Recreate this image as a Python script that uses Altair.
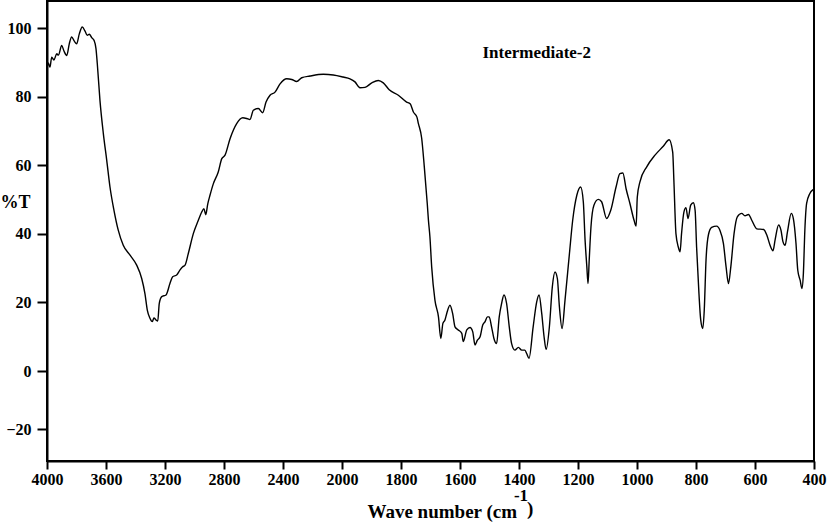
import altair as alt
import pandas as pd

# ---- data ----
wavenumber = [
    4000, 3991, 3980, 3968, 3953, 3934, 3923, 3900, 3885, 3866, 3849, 3833, 3815, 3799,
    3781, 3761, 3742, 3727, 3713, 3697, 3681, 3668, 3659, 3641, 3618, 3595, 3573, 3546,
    3517, 3483, 3437, 3392, 3358, 3336, 3320, 3302, 3286, 3275, 3261, 3249, 3239, 3222,
    3193, 3166, 3148, 3121, 3098, 3080, 3064, 3042, 3008, 2974, 2951, 2936, 2924, 2910,
    2895, 2872, 2839, 2815, 2793, 2759, 2714, 2673, 2646, 2624, 2601, 2567, 2538, 2515,
    2488, 2454, 2420, 2375, 2341, 2307, 2273, 2217, 2127, 2059, 1996, 1973, 1956, 1939,
    1922, 1899, 1877, 1860, 1840, 1809, 1781, 1769, 1758, 1746, 1741, 1730, 1721, 1711,
    1707, 1702, 1696, 1685, 1673, 1665, 1658, 1651, 1645, 1634, 1625, 1617, 1606, 1594,
    1589, 1577, 1566, 1557, 1549, 1541, 1532, 1523, 1515, 1507, 1501, 1493, 1485, 1476,
    1467, 1459, 1451, 1442, 1433, 1425, 1414, 1402, 1391, 1380, 1374, 1366, 1352, 1340,
    1332, 1323, 1315, 1308, 1297, 1287, 1278, 1270, 1263, 1254, 1244, 1229, 1218, 1204,
    1191, 1182, 1176, 1170, 1166, 1162, 1156, 1146, 1131, 1120, 1103, 1089, 1071, 1058,
    1048, 1037, 1024, 1010, 1003, 999, 990, 967, 939, 911, 891, 879, 875, 868,
    860, 854, 849, 841, 834, 827, 818, 809, 803, 798, 790, 784, 777, 772,
    766, 758, 747, 730, 719, 707, 698, 690, 682, 671, 660, 645, 634, 622,
    611, 594, 571, 560, 549, 539, 532, 520, 512, 505, 498, 490, 477, 470,
    461, 455, 447, 441, 436, 431, 425, 414, 405, 400,
]
transmittance = [
    88.3, 89.9, 88.7, 91.6, 90.8, 92.6, 92.2, 95.0, 93.4, 92.1, 95.5, 97.5, 96.3, 95.5,
    98.4, 100.4, 99.2, 98.0, 98.3, 97.3, 96.5, 94.1, 89.7, 79.0, 69.3, 61.5, 53.7, 46.9,
    41.1, 36.7, 33.8, 30.9, 27.0, 22.6, 17.8, 15.4, 14.4, 15.5, 14.9, 14.6, 19.7, 21.7,
    22.2, 25.6, 27.5, 28.0, 29.5, 30.4, 30.9, 34.3, 40.1, 44.0, 46.4, 47.4, 45.6, 48.8,
    51.3, 54.7, 58.1, 62.0, 63.0, 67.8, 72.2, 73.9, 73.7, 73.4, 76.1, 76.6, 75.4, 78.5,
    80.5, 81.4, 83.8, 85.3, 85.1, 84.5, 85.6, 86.1, 86.6, 86.4, 85.8, 85.3, 84.4, 82.7,
    82.8, 84.1, 84.8, 84.1, 82.1, 80.5, 78.5, 78.0, 75.6, 74.1, 72.2, 68.0, 59.6, 48.9,
    44.0, 39.2, 30.4, 20.7, 15.8, 9.5, 13.9, 14.9, 16.8, 19.2, 16.8, 12.9, 12.0, 11.0,
    8.6, 12.0, 12.7, 11.5, 7.6, 9.0, 10.0, 13.4, 14.4, 15.8, 15.8, 12.9, 9.5, 8.0,
    15.8, 19.7, 22.2, 19.7, 12.9, 8.0, 6.1, 6.9, 6.1, 6.1, 5.1, 3.7, 12.9, 20.2,
    22.2, 16.8, 10.0, 6.3, 12.9, 24.6, 28.9, 27.0, 18.7, 12.4, 20.7, 34.3, 44.0, 51.3,
    53.7, 49.4, 38.2, 30.4, 25.5, 32.4, 42.1, 48.4, 50.1, 49.4, 44.5, 46.9, 53.7, 57.6,
    57.8, 53.2, 48.9, 44.0, 42.3, 50.8, 55.2, 59.6, 63.0, 65.6, 67.5, 63.9, 55.7, 40.1,
    36.2, 34.8, 40.1, 46.4, 47.7, 44.5, 48.4, 49.1, 46.9, 36.2, 22.6, 14.9, 12.4, 17.8,
    32.4, 39.7, 41.9, 42.3, 41.1, 37.2, 30.4, 25.5, 30.4, 40.1, 45.0, 46.0, 45.3, 45.7,
    44.0, 41.5, 41.3, 39.7, 36.7, 35.1, 38.2, 42.6, 41.1, 37.7, 36.7, 40.6, 46.0, 44.5,
    37.2, 29.4, 26.5, 24.1, 28.5, 41.1, 48.9, 51.8, 52.8, 53.0,
]
x_ticks = [4000, 3600, 3200, 2800, 2400, 2000, 1800, 1600, 1400, 1200, 1000, 800, 600, 400]
y_ticks = [100, 80, 60, 40, 20, 0, -20]

label_text = ["Intermediate-2"]
label_wn = [1340]
label_t = [92.7]

x_title_main = ["Wave number (cm"]
x_title_sup = ["-1"]
x_title_close = [")"]

# ---- layout ----
W, H = 767, 460
FONT = "Liberation Serif"

df = pd.DataFrame({"wn": wavenumber, "T": transmittance})
ann = pd.DataFrame({"wn": label_wn, "T": label_t, "txt": label_text})

xscale = alt.Scale(domain=[4000, 2000, 400], range=[0, 295, W])
yscale = alt.Scale(domain=[-31, 0, 108], range=[H, 370, 0])

x_axis = alt.Axis(
    values=x_ticks, title=None, format="d", grid=False,
    tickSize=8, tickWidth=2, tickColor="black",
    domainColor="black", domainWidth=2,
    labelFont=FONT, labelFontWeight="bold", labelFontSize=16, labelColor="black",
    labelPadding=2, labelOverlap=False, labelFlush=False,
)
y_axis = alt.Axis(
    values=y_ticks, format="d", grid=False,
    tickSize=10, tickWidth=2, tickColor="black",
    domainColor="black", domainWidth=2,
    labelFont=FONT, labelFontWeight="bold", labelFontSize=16, labelColor="black",
    labelPadding=6, labelOverlap=False,
    title="%T", titleAngle=0, titleX=-47, titleY=201, titleAlign="left",
    titleBaseline="middle", titleFont=FONT, titleFontWeight="bold",
    titleFontSize=18, titleColor="black",
)

line = alt.Chart(df).mark_line(color="black", strokeWidth=1.4, interpolate="monotone").encode(
    x=alt.X("wn:Q", scale=xscale, axis=x_axis),
    y=alt.Y("T:Q", scale=yscale, axis=y_axis),
    order=alt.Order("wn:Q", sort="descending"),
)

label = alt.Chart(ann).mark_text(
    font=FONT, fontWeight="bold", fontSize=17, color="black", align="center", baseline="middle"
).encode(
    x=alt.X("wn:Q", scale=xscale),
    y=alt.Y("T:Q", scale=yscale),
    text="txt:N",
)

t_main = alt.Chart(pd.DataFrame({"t": x_title_main})).mark_text(
    font=FONT, fontWeight="bold", fontSize=19, color="black", align="right", baseline="alphabetic"
).encode(text="t:N", x=alt.value(470), y=alt.value(517))

t_sup = alt.Chart(pd.DataFrame({"t": x_title_sup})).mark_text(
    font=FONT, fontWeight="bold", fontSize=17, color="black", align="center", baseline="alphabetic"
).encode(text="t:N", x=alt.value(474), y=alt.value(500))

t_close = alt.Chart(pd.DataFrame({"t": x_title_close})).mark_text(
    font=FONT, fontWeight="bold", fontSize=19, color="black", align="left", baseline="alphabetic"
).encode(text="t:N", x=alt.value(480), y=alt.value(514))

chart = alt.layer(line, label, t_main, t_sup, t_close).properties(
    width=W, height=H,
    autosize=alt.AutoSizeParams(type="none"),
    padding={"left": 47, "top": 1, "right": 13, "bottom": 63},
    background="white",
).configure_view(stroke="black", strokeWidth=2)

chart.save("out.html", embed_options={"renderer": "svg", "actions": False})
